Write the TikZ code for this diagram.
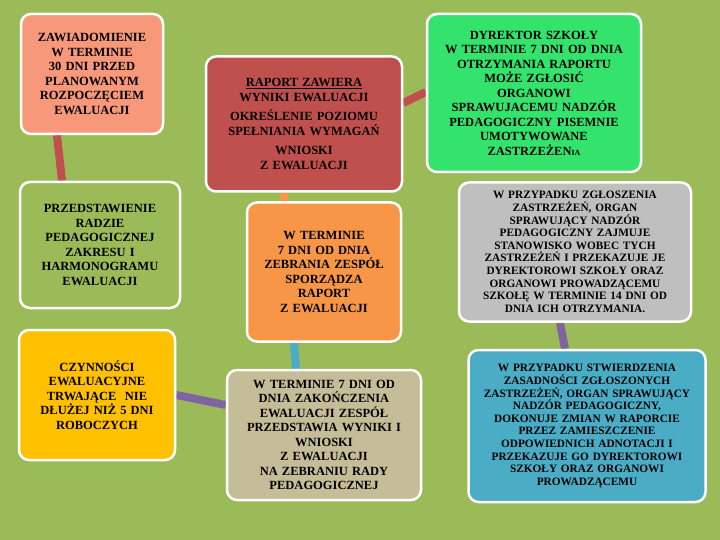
\documentclass[tikz,border=0pt]{standalone}
\usepackage{fontspec}
\setmainfont{Liberation Serif}
\definecolor{bgreen}{HTML}{9BBB59}
\definecolor{csalmon}{HTML}{F8987A}
\definecolor{cyellow}{HTML}{FFC000}
\definecolor{cred}{HTML}{C0504D}
\definecolor{corange}{HTML}{F79646}
\definecolor{cbeige}{HTML}{C4BD97}
\definecolor{cgreen}{HTML}{33E36B}
\definecolor{cgrey}{HTML}{BFBFBF}
\definecolor{cblue}{HTML}{4BACC6}
\definecolor{cpurple}{HTML}{8064A2}
\pgfdeclarelayer{bg}
\pgfdeclarelayer{links}
\pgfsetlayers{bg,links,main}
\tikzset{
  stepbox/.style={draw=white, line width=2.5pt, rounded corners=10pt, align=center,
    font=\bfseries\fontsize{12.5}{14.5}\selectfont, text=black, inner sep=3pt},
  smallbox/.style={stepbox, font=\bfseries\fontsize{11.3}{12.6}\selectfont},
  link/.style={line width=8pt},
}
\begin{document}
\begin{tikzpicture}[x=1pt,y=-1pt]
    \begin{pgfonlayer}{bg}
    \fill[bgreen] (0,0) rectangle (720,540);
    \end{pgfonlayer}
    \useasboundingbox (0,0) rectangle (720,540);

    \node [stepbox, fill=csalmon, minimum width=140pt, minimum height=120pt, text width=136pt] (plan) at (92,74)
        {ZAWIADOMIENIE\\W TERMINIE\\30 DNI PRZED\\PLANOWANYM\\ROZPOCZĘCIEM\\EWALUACJI\\[14pt]};
    \node [stepbox, minimum width=160pt, minimum height=126pt, text width=154pt] (rada) at (100,245)
        {PRZEDSTAWIENIE\\RADZIE\\PEDAGOGICZNEJ\\ZAKRESU I\\HARMONOGRAMU\\EWALUACJI};
    \node [stepbox, fill=cyellow, minimum width=155pt, minimum height=130pt, text width=150pt] (czyn) at (97,395)
        {CZYNNOŚCI\\EWALUACYJNE\\TRWAJĄCE \ NIE\\DŁUŻEJ NIŻ 5 DNI\\ROBOCZYCH\\[22pt]};
    \node [stepbox, fill=cred, minimum width=195pt, minimum height=135pt, text width=190pt] (raport) at (304,124)
        {\underline{RAPORT ZAWIERA}\\WYNIKI EWALUACJI\\[5pt]OKREŚLENIE POZIOMU\\SPEŁNIANIA WYMAGAŃ\\[5pt]WNIOSKI\\Z EWALUACJI};
    \node [stepbox, fill=corange, minimum width=152pt, minimum height=139pt, text width=148pt] (sporz) at (324,272)
        {W TERMINIE\\7 DNI OD DNIA\\ZEBRANIA ZESPÓŁ\\SPORZĄDZA\\RAPORT\\Z EWALUACJI};
    \node [stepbox, fill=cbeige, minimum width=192pt, minimum height=130pt, text width=188pt] (zebr) at (324,435)
        {W TERMINIE 7 DNI OD\\DNIA ZAKOŃCZENIA\\EWALUACJI ZESPÓŁ\\PRZEDSTAWIA WYNIKI I\\WNIOSKI\\Z EWALUACJI\\NA ZEBRANIU RADY\\PEDAGOGICZNEJ};
    \node [stepbox, fill=cgreen, minimum width=212pt, minimum height=158pt, text width=208pt] (dyr) at (534,93)
        {DYREKTOR SZKOŁY\\W TERMINIE 7 DNI OD DNIA\\OTRZYMANIA RAPORTU\\MOŻE ZGŁOSIĆ\\ORGANOWI\\SPRAWUJACEMU NADZÓR\\PEDAGOGICZNY PISEMNIE\\UMOTYWOWANE\\ZASTRZEŻEN{\fontsize{8}{9}\selectfont IA}};
    \node [smallbox, fill=cgrey, minimum width=230pt, minimum height=139pt, text width=226pt] (zastrz) at (575,252)
        {W PRZYPADKU ZGŁOSZENIA\\ZASTRZEŻEŃ, ORGAN\\SPRAWUJĄCY NADZÓR\\PEDAGOGICZNY ZAJMUJE\\STANOWISKO WOBEC TYCH\\ZASTRZEŻEŃ I PRZEKAZUJE JE\\DYREKTOROWI SZKOŁY ORAZ\\ORGANOWI PROWADZĄCEMU\\SZKOŁĘ W TERMINIE 14 DNI OD\\DNIA ICH OTRZYMANIA.};
    \node [smallbox, fill=cblue, minimum width=235pt, minimum height=152pt, text width=231pt] (zmiana) at (587,426)
        {W PRZYPADKU STWIERDZENIA\\ZASADNOŚCI ZGŁOSZONYCH\\ZASTRZEŻEŃ, ORGAN SPRAWUJĄCY\\NADZÓR PEDAGOGICZNY,\\DOKONUJE ZMIAN W RAPORCIE\\PRZEZ ZAMIESZCZENIE\\ODPOWIEDNICH ADNOTACJI I\\PRZEKAZUJE GO DYREKTOROWI\\SZKOŁY ORAZ ORGANOWI\\PROWADZĄCEMU};

    % connectors behind the boxes
    \begin{pgfonlayer}{links}
    \draw [link, cred] ([xshift=-35pt]plan.south) -- ([xshift=-38pt]rada.north);
    \draw [link, corange] ([xshift=-20pt]raport.south) -- ([xshift=-40pt]sporz.north);
    \draw [link, cblue] ([xshift=-30pt]sporz.south) -- ([xshift=-28pt]zebr.north);
    \draw [link, cpurple] (czyn.east) -- ([yshift=30pt]zebr.west);
    \draw [link, cred] ([yshift=21pt]raport.east) -- ([yshift=1pt]dyr.west);
    \draw [link, cpurple] ([xshift=-15pt]zastrz.south) -- ([xshift=-22pt]zmiana.north);
    \end{pgfonlayer}
\end{tikzpicture}
\end{document}
